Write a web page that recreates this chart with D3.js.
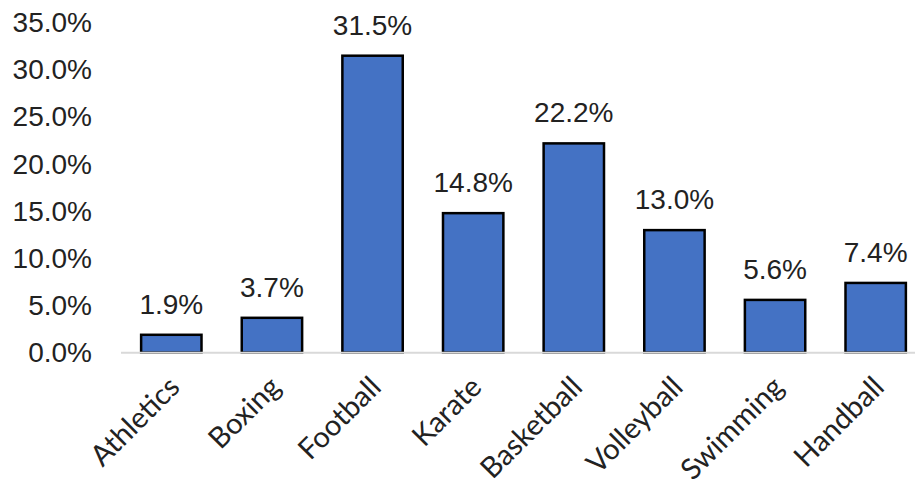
<!DOCTYPE html>
<html>
<head>
<meta charset="utf-8">
<script src="https://cdn.jsdelivr.net/npm/d3@7"></script>
<style>
  body { margin: 0; background: #fff; }
  text { font-family: "Liberation Sans", Arial, sans-serif; fill: #222; }
</style>
</head>
<body>
<script>
var sports = ["Athletics", "Boxing", "Football", "Karate", "Basketball", "Volleyball", "Swimming", "Handball"];
var shares = [1.9, 3.7, 31.5, 14.8, 22.2, 13.0, 5.6, 7.4];
var yTicks = [0, 5, 10, 15, 20, 25, 30, 35];

var width = 915, height = 489;
var margin = {top: 22.7, right: -11, bottom: 136.3, left: 121};

var svg = d3.select("body").append("svg")
  .attr("width", width)
  .attr("height", height);

var x = d3.scaleBand()
  .domain(sports)
  .range([margin.left, width - margin.right])
  .paddingInner(0.4)
  .paddingOuter(0.2);

var y = d3.scaleLinear()
  .domain([0, 35])
  .range([height - margin.bottom, margin.top]);

// y axis labels
var yAxis = svg.append("g")
  .attr("transform", "translate(" + (margin.left - 29) + ",0)")
  .call(d3.axisLeft(y).tickValues(yTicks).tickSize(0).tickPadding(0)
    .tickFormat(function(d) { return d3.format(".1f")(d) + "%"; }));
yAxis.select(".domain").remove();
yAxis.selectAll("text")
  .style("font-size", "28px")
  .attr("fill", "#222")
  .attr("font-family", "Liberation Sans, Arial, sans-serif");

// bars
svg.selectAll("rect.bar")
  .data(sports)
  .enter().append("rect")
  .attr("class", "bar")
  .attr("x", function(d) { return x(d); })
  .attr("y", function(d, i) { return y(shares[i]); })
  .attr("width", x.bandwidth())
  .attr("height", function(d, i) { return y(0) - y(shares[i]); })
  .attr("fill", "#4472C4")
  .attr("stroke", "#000")
  .attr("stroke-width", 2.5);

// x axis line
svg.append("line")
  .attr("x1", margin.left).attr("x2", width)
  .attr("y1", y(0)).attr("y2", y(0))
  .attr("stroke", "#d9d9d9")
  .attr("stroke-width", 2);

// value labels
svg.selectAll("text.val")
  .data(sports)
  .enter().append("text")
  .attr("class", "val")
  .attr("x", function(d) { return x(d) + x.bandwidth() / 2; })
  .attr("y", function(d, i) { return y(shares[i]) - 21; })
  .attr("text-anchor", "middle")
  .style("font-size", "28px")
  .text(function(d, i) { return shares[i].toFixed(1) + "%"; });

// category labels
svg.selectAll("text.cat")
  .data(sports)
  .enter().append("text")
  .attr("class", "cat")
  .attr("transform", function(d) {
    return "translate(" + (x(d) + x.bandwidth() / 2 + 3) + "," + (y(0) + 29) + ") rotate(-45)";
  })
  .attr("text-anchor", "end")
  .attr("dy", "0.35em")
  .style("font-family", "Lato, 'Open Sans', sans-serif")
  .style("font-size", "29px")
  .text(function(d) { return d; });
</script>
</body>
</html>
